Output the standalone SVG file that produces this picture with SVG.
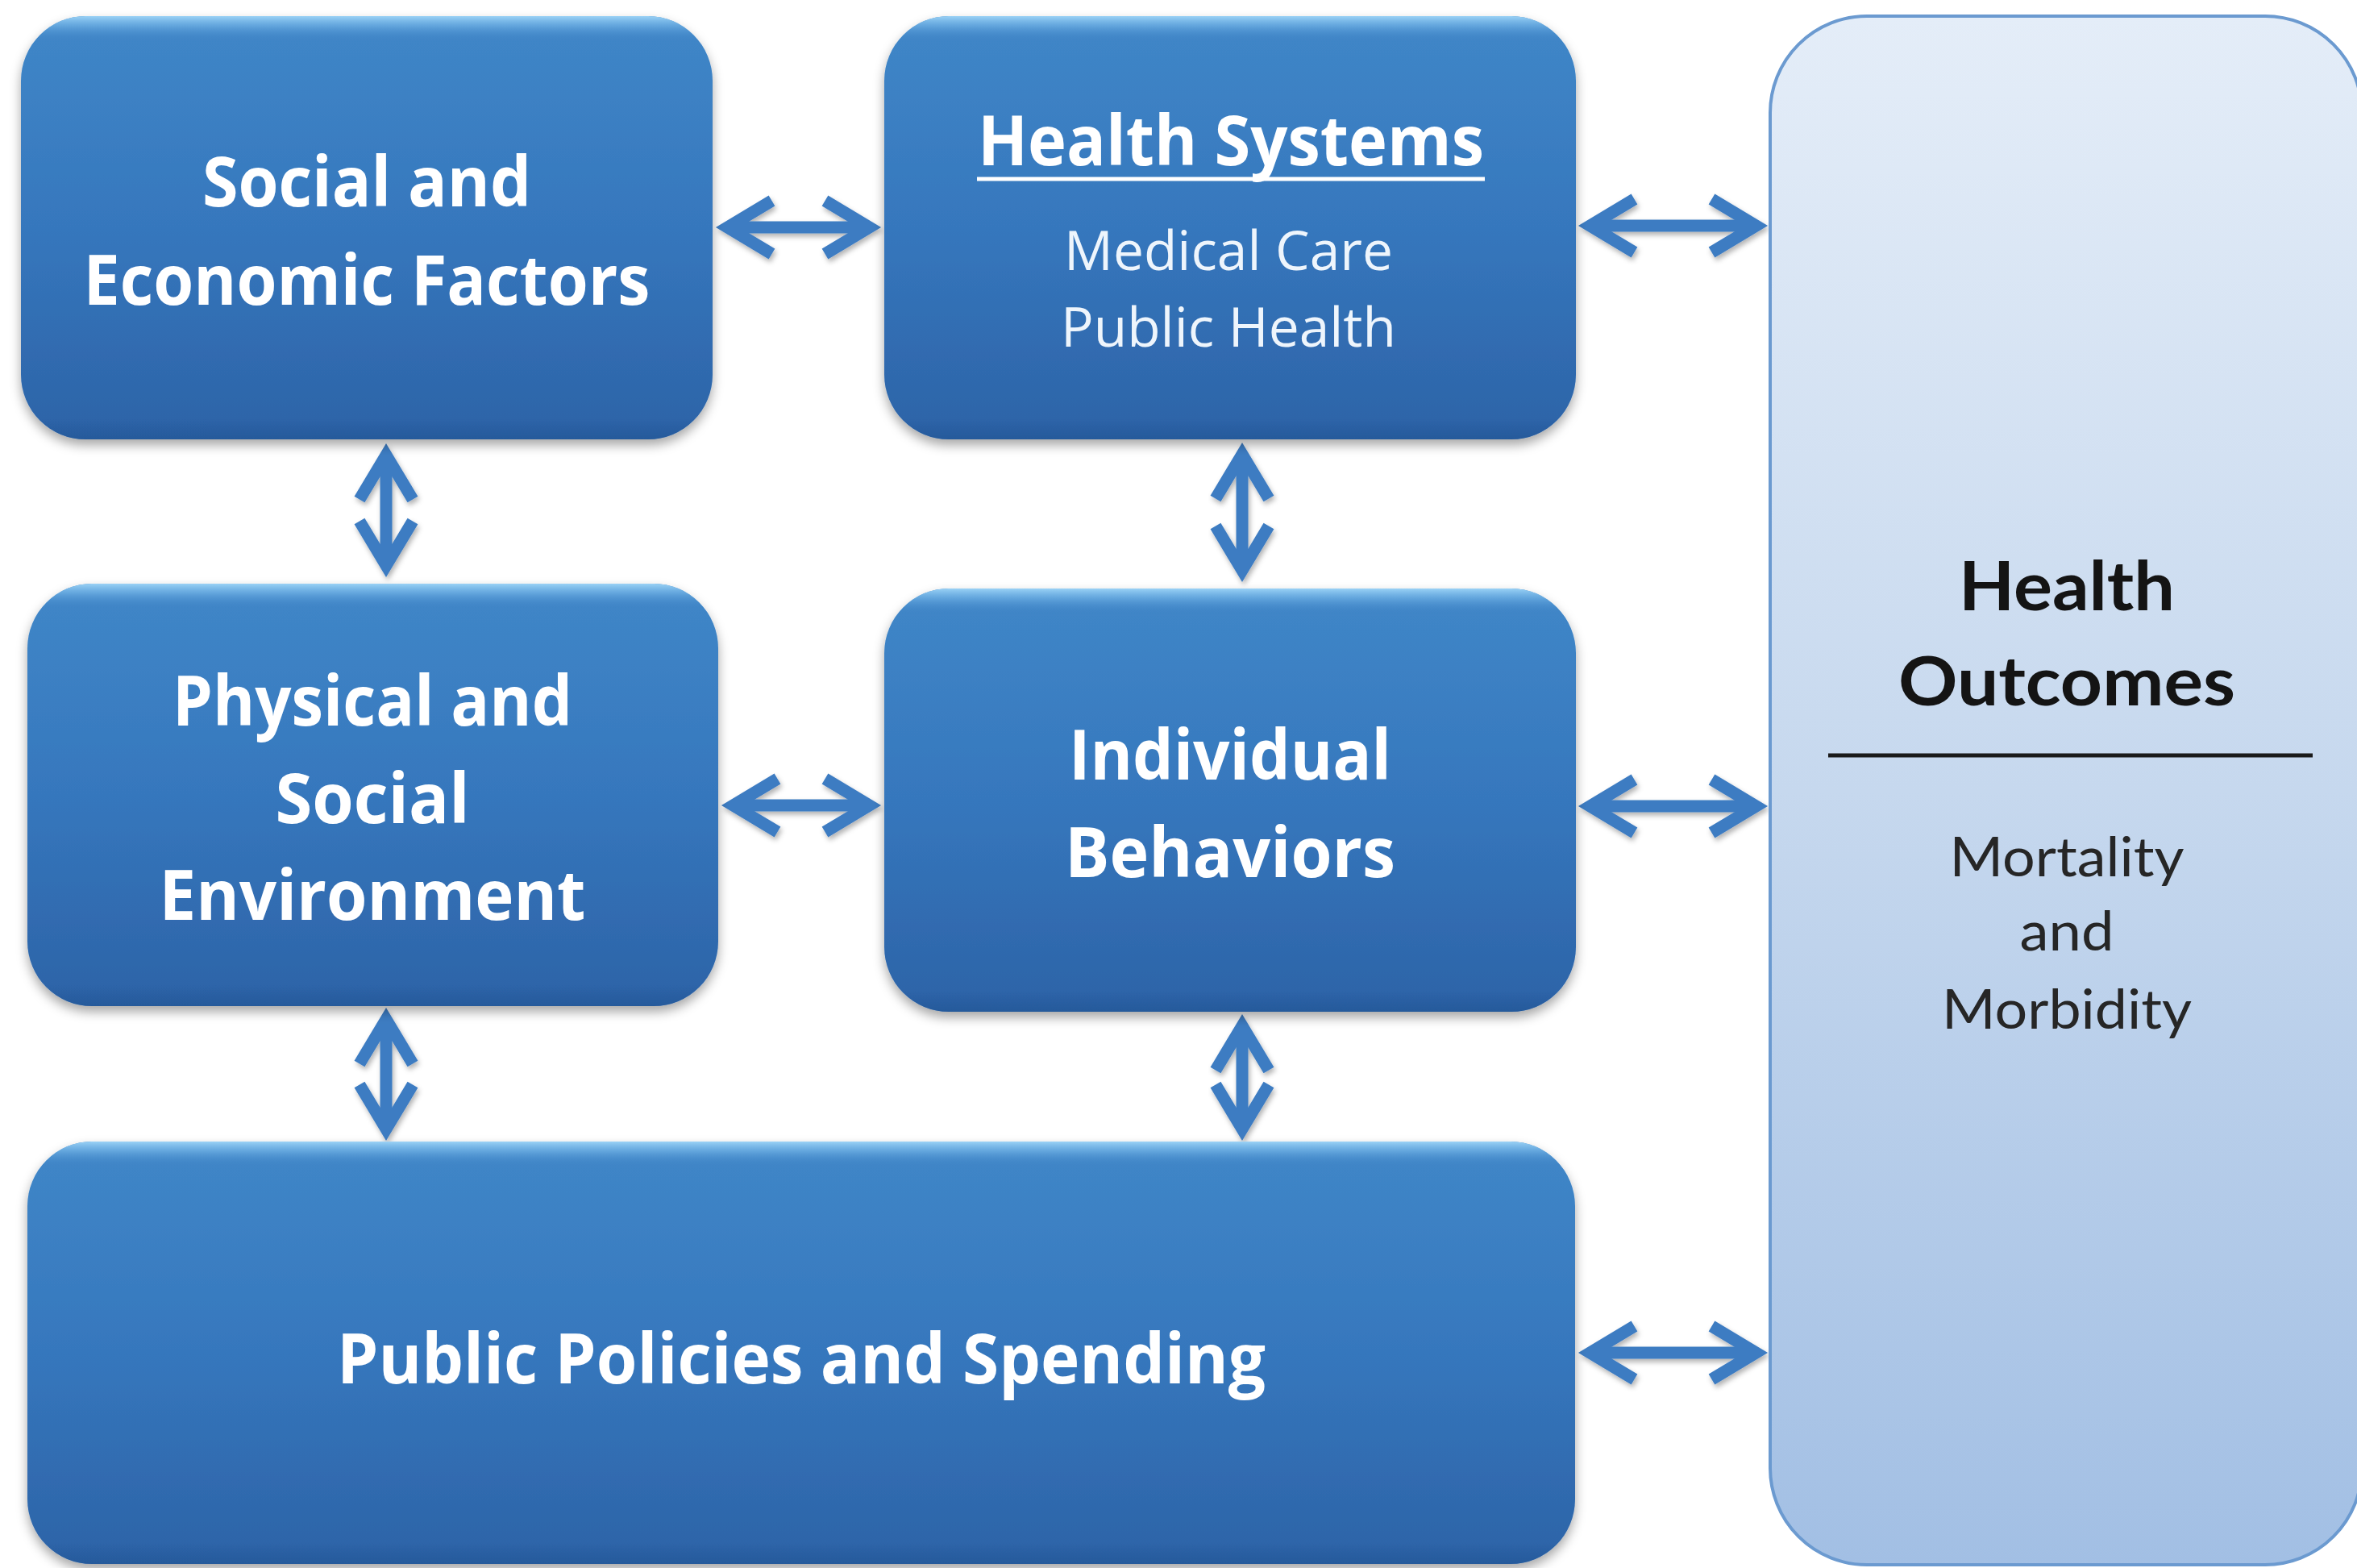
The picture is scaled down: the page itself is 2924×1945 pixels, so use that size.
<svg xmlns="http://www.w3.org/2000/svg" width="2924" height="1945" viewBox="0 0 2924 1945">
  <defs>
    <linearGradient id="blueFill" x1="0" y1="0" x2="0" y2="1">
      <stop offset="0" stop-color="#4087c8"/>
      <stop offset="0.5" stop-color="#3677bd"/>
      <stop offset="1" stop-color="#2c63a7"/>
    </linearGradient>
    <linearGradient id="bevel" x1="0" y1="0" x2="0" y2="1">
      <stop offset="0" stop-color="#9fd6f8" stop-opacity="0.95"/>
      <stop offset="0.022" stop-color="#7cbcec" stop-opacity="0.6"/>
      <stop offset="0.055" stop-color="#4a90d0" stop-opacity="0"/>
      <stop offset="0.95" stop-color="#1f4f8c" stop-opacity="0"/>
      <stop offset="1" stop-color="#1f4f8c" stop-opacity="0.45"/>
    </linearGradient>
    <linearGradient id="paleFill" x1="0" y1="0" x2="0" y2="1">
      <stop offset="0" stop-color="#e4edf8"/>
      <stop offset="0.5" stop-color="#c6d8ee"/>
      <stop offset="1" stop-color="#a2bfe4"/>
    </linearGradient>
    <filter id="shadow" x="-5%" y="-5%" width="110%" height="115%">
      <feDropShadow dx="0" dy="7" stdDeviation="7" flood-color="#000000" flood-opacity="0.35"/>
    </filter>
    <filter id="ashadow" x="-20%" y="-20%" width="140%" height="140%">
      <feDropShadow dx="2" dy="4" stdDeviation="3" flood-color="#000000" flood-opacity="0.3"/>
    </filter>
    <marker id="chev" markerUnits="userSpaceOnUse" orient="auto-start-reverse" refX="0" refY="0" markerWidth="10" markerHeight="10" overflow="visible">
      <path d="M-53.5,-33 L1.5,0 L-53.5,33" fill="none" stroke="#3d7cc2" stroke-width="15" stroke-linejoin="miter" stroke-miterlimit="10"/>
    </marker>
    <style>
      .box { fill: url(#blueFill); filter: url(#shadow); }
      .bev { fill: url(#bevel); }
      .t { font-family: "Open Sans", "Liberation Sans", sans-serif; fill: #ffffff; text-anchor: middle; }
      .tb { font-weight: 700; font-size: 86px; }
      .ts { font-weight: 400; font-size: 68px; fill: #eef5fc; }
      .o { font-family: Lato, "Open Sans", "Liberation Sans", sans-serif; fill: #141414; text-anchor: middle; }
      .ob { font-weight: 700; font-size: 84px; }
      .os { font-weight: 400; font-size: 68px; fill: #262626; }
      .arr { fill: none; stroke: #3d7cc2; stroke-width: 15; stroke-linecap: butt; marker-start: url(#chev); marker-end: url(#chev); }
    </style>
  </defs>
  <rect width="2924" height="1945" fill="#ffffff"/>

  <g id="connectors" filter="url(#ashadow)">
    <line class="arr" x1="904" y1="282" x2="1077" y2="282"/>
    <line class="arr" x1="1974" y1="280" x2="2177" y2="280"/>
    <line class="arr" x1="911" y1="999" x2="1077" y2="999"/>
    <line class="arr" x1="1974" y1="1000" x2="2177" y2="1000"/>
    <line class="arr" x1="1974" y1="1678" x2="2177" y2="1678"/>
    <line class="arr" x1="479" y1="566" x2="479" y2="700"/>
    <line class="arr" x1="1541" y1="565" x2="1541" y2="706"/>
    <line class="arr" x1="479" y1="1266" x2="479" y2="1399"/>
    <line class="arr" x1="1541" y1="1274" x2="1541" y2="1399"/>
  </g>

  <g id="social-economic">
    <rect class="box" x="26" y="20" width="858" height="525" rx="80" ry="80"/>
    <rect class="bev" x="26" y="20" width="858" height="525" rx="80" ry="80"/>
    <text class="t tb" x="455" y="256" textLength="408" lengthAdjust="spacingAndGlyphs">Social and</text>
    <text class="t tb" x="455" y="378" textLength="703" lengthAdjust="spacingAndGlyphs">Economic Factors</text>
  </g>

  <g id="health-systems">
    <rect class="box" x="1097" y="20" width="858" height="525" rx="80" ry="80"/>
    <rect class="bev" x="1097" y="20" width="858" height="525" rx="80" ry="80"/>
    <text class="t tb" x="1527" y="205" textLength="628" lengthAdjust="spacingAndGlyphs">Health Systems</text>
    <line x1="1212" y1="222" x2="1842" y2="222" stroke="#ffffff" stroke-width="5"/>
    <text class="t ts" x="1524" y="335" textLength="408" lengthAdjust="spacingAndGlyphs">Medical Care</text>
    <text class="t ts" x="1524" y="430" textLength="416" lengthAdjust="spacingAndGlyphs">Public Health</text>
  </g>

  <g id="physical-social">
    <rect class="box" x="34" y="724" width="857" height="524" rx="80" ry="80"/>
    <rect class="bev" x="34" y="724" width="857" height="524" rx="80" ry="80"/>
    <text class="t tb" x="462" y="900" textLength="496" lengthAdjust="spacingAndGlyphs">Physical and</text>
    <text class="t tb" x="462" y="1021" textLength="241" lengthAdjust="spacingAndGlyphs">Social</text>
    <text class="t tb" x="462" y="1141" textLength="529" lengthAdjust="spacingAndGlyphs">Environment</text>
  </g>

  <g id="individual-behaviors">
    <rect class="box" x="1097" y="730" width="858" height="525" rx="80" ry="80"/>
    <rect class="bev" x="1097" y="730" width="858" height="525" rx="80" ry="80"/>
    <text class="t tb" x="1526" y="967" textLength="400" lengthAdjust="spacingAndGlyphs">Individual</text>
    <text class="t tb" x="1526" y="1088" textLength="410" lengthAdjust="spacingAndGlyphs">Behaviors</text>
  </g>

  <g id="public-policies">
    <rect class="box" x="34" y="1416" width="1920" height="524" rx="80" ry="80"/>
    <rect class="bev" x="34" y="1416" width="1920" height="524" rx="80" ry="80"/>
    <text class="t tb" x="994" y="1716" textLength="1152" lengthAdjust="spacingAndGlyphs">Public Policies and Spending</text>
  </g>

  <g id="health-outcomes">
    <rect x="2196" y="20" width="734" height="1921" rx="120" ry="120" fill="url(#paleFill)" stroke="#6b9ad0" stroke-width="4"/>
    <text class="o ob" x="2564" y="757" textLength="268" lengthAdjust="spacingAndGlyphs">Health</text>
    <text class="o ob" x="2564" y="875" textLength="418" lengthAdjust="spacingAndGlyphs">Outcomes</text>
    <line x1="2268" y1="937" x2="2869" y2="937" stroke="#1a1a1a" stroke-width="5"/>
    <text class="o os" x="2564" y="1087" textLength="291" lengthAdjust="spacingAndGlyphs">Mortality</text>
    <text class="o os" x="2564" y="1179" textLength="117" lengthAdjust="spacingAndGlyphs">and</text>
    <text class="o os" x="2564" y="1276" textLength="310" lengthAdjust="spacingAndGlyphs">Morbidity</text>
  </g>
</svg>
